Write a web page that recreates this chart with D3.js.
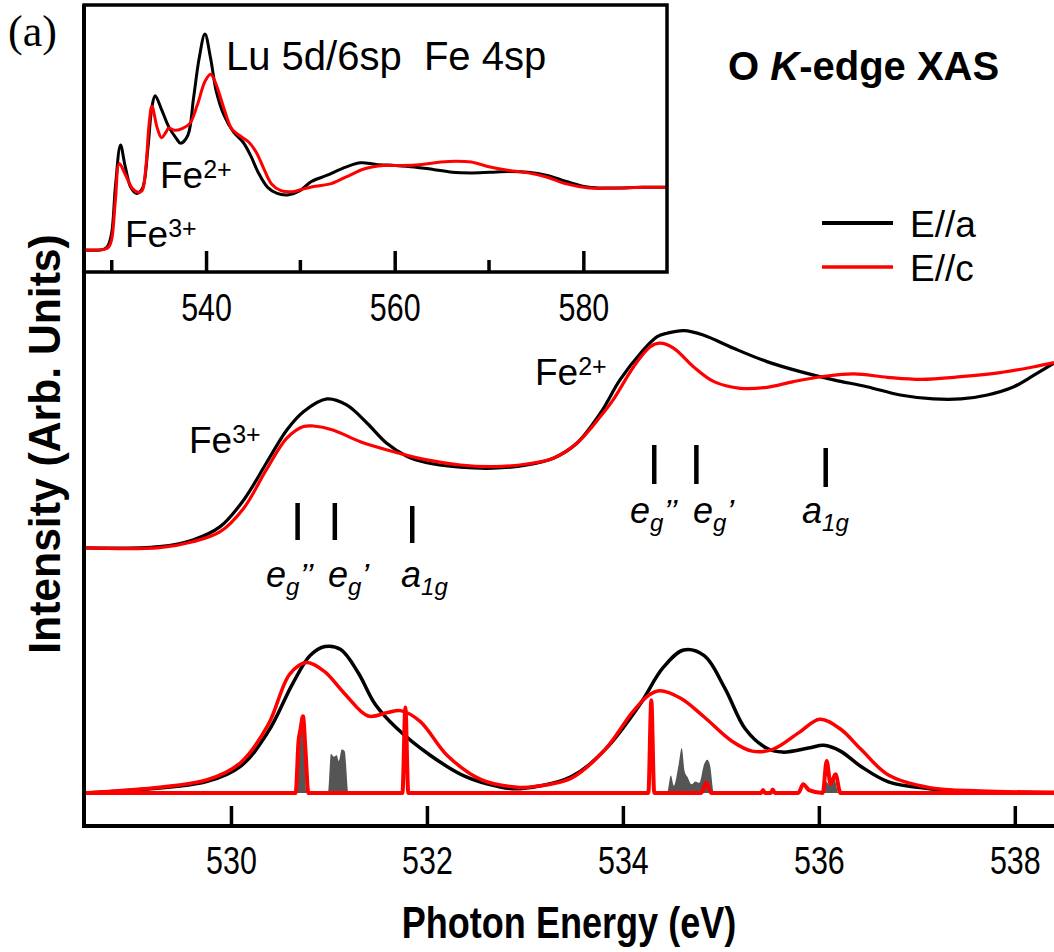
<!DOCTYPE html>
<html>
<head>
<meta charset="utf-8">
<script src="https://cdn.jsdelivr.net/npm/d3@7"></script>
<style>
  body { margin: 0; background: #fff; }
  svg { display: block; }
  text { white-space: pre; }
</style>
</head>
<body>
<svg id="chart" width="1054" height="952"></svg>
<script>
// ---------- data ----------
// main panel tick labels (eV)
const mainTicks = [530, 532, 534, 536, 538];
// inset tick values (eV)
const insetMajorTicks = [540, 560, 580];
const insetMinorTicks = [530, 550, 570];

// inset: wide-range O K-edge XAS, [energy eV, normalised intensity]
const insetEa = [[527.06,0],[529.2,0.004],[529.6,0.02],[530.0,0.081],[530.4,0.298],[530.93,0.486],[531.41,0.391],[532.02,0.29],[532.62,0.262],[533.23,0.283],[533.83,0.469],[534.24,0.655],[534.6,0.714],[535.24,0.655],[536.05,0.57],[536.86,0.516],[537.3,0.494],[538.07,0.531],[538.67,0.702],[539.27,0.888],[539.88,1.0],[540.48,0.888],[541.09,0.733],[541.9,0.624],[542.9,0.547],[543.91,0.5],[544.72,0.438],[545.52,0.36],[546.53,0.29],[547.54,0.262],[548.75,0.256],[549.96,0.275],[551.17,0.317],[552.78,0.345],[554.8,0.384],[556.41,0.404],[558.02,0.396],[560.04,0.391],[562.06,0.384],[564.07,0.373],[566.09,0.36],[568.11,0.357],[570.12,0.36],[572.14,0.363],[574.15,0.36],[576.17,0.345],[578.19,0.317],[580.6,0.29],[583.0,0.287],[586.25,0.29],[588.87,0.29]];
const insetEc = [[527.06,0],[529.3,0.004],[529.7,0.015],[530.0,0.05],[530.4,0.236],[530.8,0.4],[531.41,0.352],[532.22,0.283],[532.82,0.267],[533.23,0.275],[533.63,0.391],[533.95,0.578],[534.26,0.665],[534.84,0.562],[535.28,0.52],[535.77,0.547],[536.05,0.565],[536.65,0.554],[537.46,0.562],[538.27,0.585],[539.07,0.671],[539.88,0.78],[540.48,0.814],[541.09,0.764],[541.9,0.655],[542.7,0.562],[543.51,0.531],[544.52,0.5],[545.32,0.453],[546.13,0.376],[546.94,0.306],[547.94,0.275],[549.15,0.27],[550.36,0.283],[551.57,0.295],[553.19,0.306],[554.8,0.337],[556.82,0.376],[558.83,0.391],[560.85,0.391],[562.86,0.396],[564.88,0.407],[566.49,0.411],[568.11,0.407],[570.12,0.384],[572.14,0.368],[574.15,0.357],[576.17,0.337],[578.19,0.306],[580.6,0.287],[583.0,0.286],[586.25,0.29],[588.87,0.29]];

// main panel, measured spectra (shifted upward by upperOffset when drawn)
const expEa = [[528.5,0],[529.27,0.009],[529.61,0.055],[529.89,0.147],[530.13,0.331],[530.36,0.584],[530.57,0.814],[530.74,0.94],[530.98,1.028],[531.18,0.986],[531.39,0.86],[531.59,0.722],[531.79,0.634],[532.0,0.588],[532.34,0.557],[532.68,0.55],[533.02,0.572],[533.29,0.619],[533.53,0.722],[533.77,0.929],[533.97,1.159],[534.18,1.343],[534.35,1.457],[534.45,1.481],[534.62,1.499],[534.82,1.469],[535.13,1.377],[535.47,1.285],[535.81,1.216],[536.15,1.159],[536.49,1.112],[536.83,1.055],[537.17,1.028],[537.45,1.028],[537.72,1.055],[537.99,1.112],[538.2,1.193],[538.4,1.274]];
const expEc = [[528.5,0],[529.27,0.002],[529.61,0.043],[529.89,0.112],[530.13,0.274],[530.36,0.538],[530.57,0.757],[530.74,0.837],[530.84,0.841],[531.04,0.814],[531.32,0.733],[531.66,0.664],[532.0,0.607],[532.34,0.572],[532.68,0.561],[533.02,0.579],[533.29,0.619],[533.53,0.722],[533.77,0.906],[533.9,1.021],[534.11,1.25],[534.28,1.388],[534.38,1.412],[534.52,1.377],[534.72,1.25],[534.93,1.147],[535.2,1.101],[535.47,1.108],[535.74,1.147],[536.08,1.186],[536.36,1.2],[536.7,1.177],[537.04,1.163],[537.45,1.181],[537.85,1.209],[538.2,1.25],[538.4,1.278]];

// main panel, calculated spectra
const calcEa = [[528.5,0],[529.75,0.079],[530.1,0.186],[530.38,0.423],[530.63,0.755],[530.81,0.95],[530.96,1.01],[531.12,0.99],[531.3,0.828],[531.47,0.614],[531.69,0.448],[532.04,0.257],[532.39,0.114],[532.74,0.043],[532.95,0.03],[533.47,0.112],[533.82,0.301],[534.17,0.607],[534.41,0.864],[534.62,0.986],[534.83,0.947],[535.04,0.724],[535.25,0.441],[535.46,0.312],[535.63,0.282],[535.91,0.312],[536.05,0.329],[536.22,0.289],[536.43,0.183],[536.71,0.077],[537.13,0.03],[537.65,0.007],[538.4,0]];
const calcEc = [[528.5,0],[529.75,0.09],[530.1,0.21],[530.38,0.471],[530.6,0.82],[530.77,0.9],[530.95,0.84],[531.16,0.685],[531.4,0.531],[531.6,0.555],[531.73,0.568],[531.93,0.494],[532.21,0.257],[532.56,0.09],[532.92,0.04],[533.1,0.045],[533.47,0.101],[533.82,0.301],[534.1,0.559],[534.27,0.677],[534.38,0.705],[534.59,0.653],[534.83,0.524],[535.11,0.359],[535.32,0.289],[535.53,0.301],[535.8,0.418],[536.01,0.508],[536.22,0.441],[536.43,0.301],[536.71,0.124],[537.13,0.037],[537.65,0.014],[538.4,0.005]];

// main panel, discrete transitions (E//c) and partial density of states (shaded)
const calcSticks = [[528.5,0],[530.66,0],[530.69,0.36],[530.71,0.44],[530.735,0.53],[530.76,0.3],[530.79,0],[531.75,0],[531.78,0.59],[531.81,0],[534.26,0],[534.29,0.64],[534.32,0],[534.8,0],[534.85,0.07],[534.9,0],[535.41,0],[535.43,0.02],[535.45,0],[535.51,0],[535.53,0.025],[535.55,0],[535.79,0],[535.84,0.06],[535.9,0.02],[536.04,0],[536.08,0.22],[536.12,0.06],[536.17,0.13],[536.22,0],[538.4,0]];
const calcDos = [[528.5,0],[530.67,0],[530.7,0.3],[530.72,0.5],[530.745,0.45],[530.77,0],[530.99,0],[531.02,0.27],[531.05,0.25],[531.08,0.26],[531.1,0.22],[531.13,0.3],[531.16,0.29],[531.2,0],[534.45,0],[534.49,0.12],[534.52,0.05],[534.57,0.2],[534.6,0.31],[534.63,0.15],[534.66,0.11],[534.7,0.06],[534.74,0.08],[534.78,0.07],[534.83,0.2],[534.86,0.23],[534.89,0.19],[534.93,0],[536.03,0],[536.07,0.08],[536.12,0.05],[536.16,0.09],[536.2,0],[538.4,0]];

// crystal-field level positions (eV)
const fe3Levels = [530.68, 531.06, 531.85];
const fe2Levels = [534.32, 534.75, 536.07];
const levelNames = [["e", "g", "’’"], ["e", "g", "’"], ["a", "1g", ""]];

const legendNames = ["E//a", "E//c"];
const seriesColors = ["#000000", "#ff0000"];

// ---------- layout ----------
const svg = d3.select("#chart");
const sans = "'Liberation Sans', Arial, Helvetica, sans-serif";
const serif = "'Liberation Serif', 'Times New Roman', serif";

const plot = { left: 84, right: 1054, top: 5, bottom: 826 };
const inset = { left: 84, right: 667, top: 5, bottom: 272 };
const upperOffset = 1.69;

const x = d3.scaleLinear().domain([528.5, 538.4]).range([plot.left, plot.right]);
const y = d3.scaleLinear().domain([0, 1]).range([793, 648]);
const xi = d3.scaleLinear().domain([527.06, 588.87]).range([inset.left, inset.right]);
const yi = d3.scaleLinear().domain([0, 1]).range([250, 34]);

const defs = svg.append("defs");
defs.append("clipPath").attr("id", "clip-main").append("rect")
  .attr("x", plot.left).attr("y", plot.top).attr("width", plot.right - plot.left).attr("height", plot.bottom - plot.top);
defs.append("clipPath").attr("id", "clip-inset").append("rect")
  .attr("x", inset.left).attr("y", inset.top).attr("width", inset.right - inset.left).attr("height", inset.bottom - inset.top);

const smooth = d3.curveCatmullRom.alpha(0.5);

// ---------- main panel curves ----------
const gMain = svg.append("g").attr("clip-path", "url(#clip-main)");

gMain.append("path").datum(calcDos)
  .attr("d", d3.area().x(d => x(d[0])).y0(y(0)).y1(d => y(d[1])).curve(d3.curveMonotoneX))
  .attr("fill", "#555555");

const lineMain = off => d3.line().x(d => x(d[0])).y(d => y(d[1] + off)).curve(smooth);

gMain.append("path").datum(calcEa).attr("d", lineMain(0))
  .attr("fill", "none").attr("stroke", seriesColors[0]).attr("stroke-width", 3.5);
gMain.append("path").datum(calcEc).attr("d", lineMain(0))
  .attr("fill", "none").attr("stroke", seriesColors[1]).attr("stroke-width", 3.5);
gMain.append("path").datum(calcSticks)
  .attr("d", d3.line().x(d => x(d[0])).y(d => y(d[1])).curve(d3.curveMonotoneX))
  .attr("fill", "none").attr("stroke", seriesColors[1]).attr("stroke-width", 4).attr("stroke-linejoin", "round");

gMain.append("path").datum(expEa).attr("d", lineMain(upperOffset))
  .attr("fill", "none").attr("stroke", seriesColors[0]).attr("stroke-width", 3.2);
gMain.append("path").datum(expEc).attr("d", lineMain(upperOffset))
  .attr("fill", "none").attr("stroke", seriesColors[1]).attr("stroke-width", 3.2);

// ---------- level markers ----------
function drawLevels(levels, top, bottom, labelY, labelX) {
  levels.forEach((e, i) => {
    svg.append("line")
      .attr("x1", x(e)).attr("x2", x(e))
      .attr("y1", top + (i === 2 ? 3 : 0)).attr("y2", bottom + (i === 2 ? 3 : 0))
      .attr("stroke", "#000").attr("stroke-width", 4.5);
    const n = levelNames[i];
    const t = svg.append("text")
      .attr("x", labelX[i]).attr("y", labelY)
      .attr("font-family", sans).attr("font-style", "italic").attr("font-size", 36);
    t.append("tspan").text(n[0]);
    t.append("tspan").attr("font-size", 24).attr("dy", 8).text(n[1]);
    if (n[2]) t.append("tspan").attr("font-size", 34).attr("dy", -8).text(n[2]);
  });
}
drawLevels(fe3Levels, 503, 540, 587, [266, 328, 401]);
drawLevels(fe2Levels, 445, 484, 523, [630, 693, 802]);

// ---------- main axes ----------
const xAxis = d3.axisBottom(x).tickValues(mainTicks).tickSize(-20).tickFormat(d3.format("d"));
const gx = svg.append("g").attr("transform", `translate(0,${plot.bottom})`).call(xAxis);
gx.select(".domain").remove();
gx.selectAll(".tick line").attr("stroke", "#000").attr("stroke-width", 3.5);
gx.selectAll(".tick text")
  .attr("y", 48).attr("dy", null)
  .attr("fill", "#000").attr("font-family", sans).attr("font-size", 38)
  .attr("transform", "scale(0.8,1)");

svg.append("path")
  .attr("d", `M${plot.left},${plot.top}V${plot.bottom}H${plot.right}`)
  .attr("fill", "none").attr("stroke", "#000").attr("stroke-width", 4).attr("stroke-linejoin", "miter");

svg.append("text")
  .attr("transform", `translate(${(plot.left + plot.right) / 2},938) scale(0.82,1)`)
  .attr("text-anchor", "middle").attr("font-family", sans).attr("font-weight", "bold").attr("font-size", 44)
  .text("Photon Energy (eV)");

svg.append("text")
  .attr("transform", `translate(60,444) rotate(-90) scale(0.97,1)`)
  .attr("text-anchor", "middle").attr("font-family", sans).attr("font-weight", "bold").attr("font-size", 44)
  .text("Intensity (Arb. Units)");

// ---------- inset ----------
const gInset = svg.append("g");
const gInsetClip = gInset.append("g").attr("clip-path", "url(#clip-inset)");
const lineInset = d3.line().x(d => xi(d[0])).y(d => yi(d[1])).curve(smooth);
gInsetClip.append("path").datum(insetEa).attr("d", lineInset)
  .attr("fill", "none").attr("stroke", seriesColors[0]).attr("stroke-width", 3);
gInsetClip.append("path").datum(insetEc).attr("d", lineInset)
  .attr("fill", "none").attr("stroke", seriesColors[1]).attr("stroke-width", 3);

const gxi = gInset.append("g").attr("transform", `translate(0,${inset.bottom})`)
  .call(d3.axisBottom(xi).tickValues(insetMajorTicks).tickSize(-21).tickFormat(d3.format("d")));
gxi.select(".domain").remove();
gxi.selectAll(".tick line").attr("stroke", "#000").attr("stroke-width", 3.5);
gxi.selectAll(".tick text")
  .attr("y", 49).attr("dy", null)
  .attr("fill", "#000").attr("font-family", sans).attr("font-size", 38)
  .attr("transform", "scale(0.8,1)");
gInset.selectAll(".minor").data(insetMinorTicks).join("line")
  .attr("class", "minor")
  .attr("x1", d => xi(d)).attr("x2", d => xi(d))
  .attr("y1", inset.bottom).attr("y2", inset.bottom - 12)
  .attr("stroke", "#000").attr("stroke-width", 3.5);

gInset.append("rect")
  .attr("x", inset.left).attr("y", inset.top)
  .attr("width", inset.right - inset.left).attr("height", inset.bottom - inset.top)
  .attr("fill", "none").attr("stroke", "#000").attr("stroke-width", 3.5);

function supLabel(parent, xPos, yPos, base, sup) {
  const t = parent.append("text").attr("x", xPos).attr("y", yPos)
    .attr("font-family", sans).attr("font-size", 37);
  t.append("tspan").text(base);
  t.append("tspan").attr("font-size", 25).attr("dy", -10).text(sup);
}
gInset.append("text").attr("x", 226).attr("y", 70)
  .attr("font-family", sans).attr("font-size", 40)
  .text("Lu 5d/6sp  Fe 4sp");
supLabel(gInset, 160, 188, "Fe", "2+");
supLabel(gInset, 125, 247, "Fe", "3+");

// ---------- main annotations ----------
supLabel(svg, 189, 453, "Fe", "3+");
supLabel(svg, 535, 385, "Fe", "2+");

const title = svg.append("text").attr("x", 728).attr("y", 80)
  .attr("font-family", sans).attr("font-weight", "bold").attr("font-size", 40);
title.append("tspan").text("O ");
title.append("tspan").attr("font-style", "italic").text("K");
title.append("tspan").text("-edge XAS");

svg.append("text").attr("x", 8).attr("y", 46)
  .attr("font-family", serif).attr("font-size", 44).text("(a)");

// ---------- legend ----------
const legend = svg.append("g");
legendNames.forEach((name, i) => {
  const ly = 223 + i * 44;
  legend.append("line").attr("x1", 822).attr("x2", 893).attr("y1", ly).attr("y2", ly)
    .attr("stroke", seriesColors[i]).attr("stroke-width", i === 0 ? 4 : 3.5);
  legend.append("text").attr("x", 910).attr("y", ly + 14)
    .attr("font-family", sans).attr("font-size", 37).text(name);
});
</script>
</body>
</html>
